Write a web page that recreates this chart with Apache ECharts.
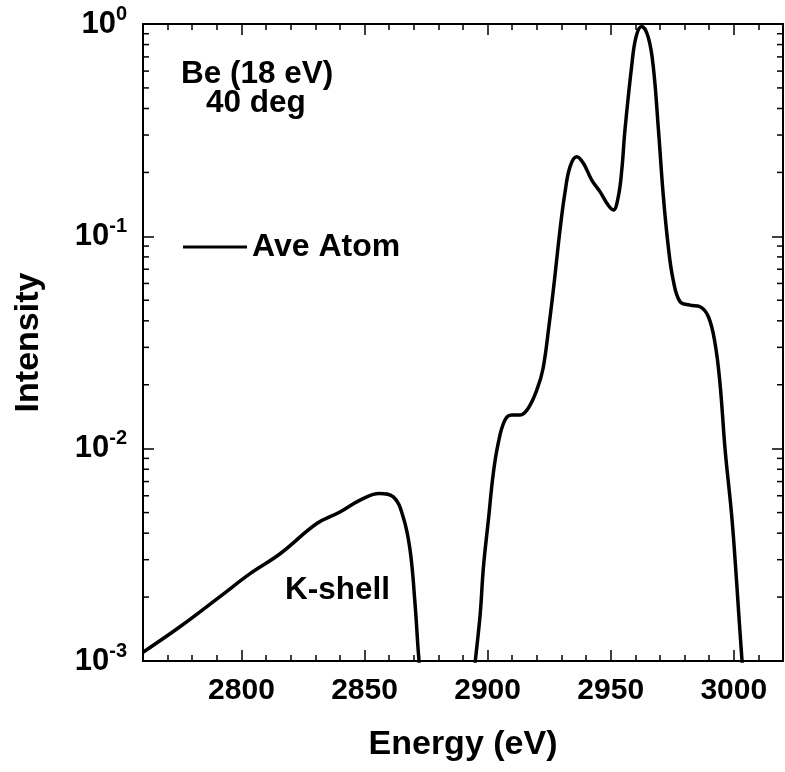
<!DOCTYPE html>
<html>
<head>
<meta charset="utf-8">
<script src="https://cdn.jsdelivr.net/npm/echarts@6/dist/echarts.min.js"></script>
<style>
  html, body { margin: 0; padding: 0; background: #fff; }
  #main { width: 785px; height: 772px; }
</style>
</head>
<body>
<div id="main"></div>
<script>
// data (energy in eV, intensity normalised)
var energy = [2760, 2775, 2791, 2803.5, 2815.7, 2830.6, 2840, 2848, 2856, 2861.7,
    2865.7, 2868.5, 2870.5, 2872, 2874, 2893, 2895, 2897, 2898.3, 2900.3,
    2902.3, 2904.3, 2907, 2909.8, 2913.2, 2916.5, 2920, 2922.5, 2925, 2927,
    2929.4, 2931.4, 2933.5, 2936.2, 2938.9, 2942.3, 2945.7, 2949, 2951.1, 2953.1,
    2954.5, 2955.8, 2958.5, 2960.3, 2962.6, 2965.2, 2967.3, 2969.4, 2971.4, 2973.4,
    2975.4, 2978.2, 2982.2, 2986.3, 2989.7, 2992.4, 2994.4, 2996.5, 2999.2, 3001.2,
    3003.2, 3005];
var intensity = [0.0011, 0.00145, 0.0020, 0.00258, 0.0032, 0.00444, 0.00503, 0.00571, 0.00615, 0.00593,
    0.00477, 0.00333, 0.00187, 0.00105, 0.0006, 0.0006, 0.0010, 0.00167, 0.00277, 0.0046,
    0.00764, 0.0106, 0.0136, 0.0144, 0.0144, 0.0155, 0.0189, 0.0238, 0.0385, 0.060,
    0.107, 0.160, 0.213, 0.237, 0.221, 0.184, 0.162, 0.140, 0.133, 0.154,
    0.205, 0.317, 0.63, 0.87, 0.973, 0.87, 0.63, 0.317, 0.154, 0.0893,
    0.0622, 0.0492, 0.0474, 0.0466, 0.0418, 0.0313, 0.0203, 0.00984, 0.00477, 0.00232,
    0.00106, 0.0006];

var xMin = 2760, xMax = 3020;
var yMin = 0.001, yMax = 1;
// minor ticks of the log axis (2..9 per decade)
var yMinorTicks = [0.002, 0.003, 0.004, 0.005, 0.006, 0.007, 0.008, 0.009,
    0.02, 0.03, 0.04, 0.05, 0.06, 0.07, 0.08, 0.09,
    0.2, 0.3, 0.4, 0.5, 0.6, 0.7, 0.8, 0.9];

var FONT = 'Liberation Sans';
var TXT = 'bold 31.5px "Liberation Sans"';

var myChart = echarts.init(document.getElementById('main'));

var lineData = energy.map(function (e, i) { return [e, intensity[i]]; });
var minorData = yMinorTicks.map(function (v) { return [xMin, v]; });

function majorX(pos, showLabel) {
    return {
        type: 'value', position: pos, min: xMin, max: xMax,
        axisLine: {show: true, onZero: false, lineStyle: {color: '#000', width: 2}},
        axisTick: {show: true, inside: true, length: 11, lineStyle: {color: '#000', width: 1.5}},
        axisLabel: {
            show: showLabel, margin: 15, showMinLabel: false, showMaxLabel: false,
            formatter: function (v) { return String(v); },
            color: '#000', fontSize: 30, fontWeight: 'bold', fontFamily: FONT
        },
        splitLine: {show: false}
    };
}
function minorX(pos) {
    return {
        type: 'value', position: pos, min: xMin, max: xMax, interval: 10,
        axisLine: {show: false},
        axisTick: {show: true, inside: true, length: 6, lineStyle: {color: '#000', width: 1.5}},
        axisLabel: {show: false},
        splitLine: {show: false}
    };
}

var xBottom = majorX('bottom', true);
xBottom.name = 'Energy (eV)';
xBottom.nameLocation = 'middle';
xBottom.nameGap = 67;
xBottom.nameTextStyle = {color: '#000', fontSize: 34, fontWeight: 'bold', fontFamily: FONT};

var option = {
    backgroundColor: '#fff',
    animation: false,
    grid: {left: 143, top: 24, right: 2, bottom: 111},
    legend: {
        data: ['Ave Atom'],
        left: 183, top: 231, padding: 0,
        icon: 'rect', itemWidth: 64, itemHeight: 3,
        textStyle: {color: '#000', fontSize: 32, fontWeight: 'bold', fontFamily: FONT}
    },
    xAxis: [xBottom, minorX('bottom'), majorX('top', false), minorX('top')],
    yAxis: [
        {
            type: 'log', logBase: 10, position: 'left', min: yMin, max: yMax,
            name: 'Intensity', nameLocation: 'middle', nameGap: 97,
            nameTextStyle: {color: '#000', fontSize: 34, fontWeight: 'bold', fontFamily: FONT},
            axisLine: {show: true, onZero: false, lineStyle: {color: '#000', width: 2}},
            axisTick: {show: true, inside: true, length: 11, lineStyle: {color: '#000', width: 1.5}},
            axisLabel: {
                margin: 16,
                formatter: function (v) {
                    return '{b|10}{s|' + Math.round(Math.log10(v)) + '}';
                },
                rich: {
                    b: {color: '#000', fontSize: 31, fontWeight: 'bold', fontFamily: FONT},
                    s: {color: '#000', fontSize: 20, fontWeight: 'bold', fontFamily: FONT, padding: [0, 0, 20, 0]}
                }
            },
            splitLine: {show: false}
        },
        {
            type: 'log', logBase: 10, position: 'right', min: yMin, max: yMax,
            axisLine: {show: true, onZero: false, lineStyle: {color: '#000', width: 2}},
            axisTick: {show: true, inside: true, length: 11, lineStyle: {color: '#000', width: 1.5}},
            axisLabel: {show: false},
            splitLine: {show: false}
        }
    ],
    graphic: [
        {type: 'text', left: 181, top: 58, style: {text: 'Be (18 eV)', fill: '#000', font: TXT}},
        {type: 'text', left: 206, top: 87, style: {text: '40 deg', fill: '#000', font: TXT}},
        {type: 'text', left: 285, top: 574, style: {text: 'K-shell', fill: '#000', font: TXT}}
    ],
    series: [
        {
            name: 'Ave Atom',
            type: 'line',
            xAxisIndex: 0, yAxisIndex: 0,
            data: lineData,
            smooth: 0.4,
            showSymbol: false,
            symbol: 'none',
            clip: true,
            lineStyle: {color: '#000', width: 3.5},
            itemStyle: {color: '#000'}
        },
        {
            // short minor ticks on left and right log axes
            type: 'custom',
            xAxisIndex: 0, yAxisIndex: 0,
            data: minorData,
            silent: true,
            clip: false,
            renderItem: function (params, api) {
                var l = api.coord([xMin, api.value(1)]);
                var r = api.coord([xMax, api.value(1)]);
                var st = {stroke: '#000', lineWidth: 1.5};
                return {
                    type: 'group',
                    children: [
                        {type: 'line', shape: {x1: l[0], y1: l[1], x2: l[0] + 6, y2: l[1]}, style: st},
                        {type: 'line', shape: {x1: r[0], y1: r[1], x2: r[0] - 6, y2: r[1]}, style: st}
                    ]
                };
            }
        }
    ]
};
myChart.setOption(option);
</script>
</body>
</html>
